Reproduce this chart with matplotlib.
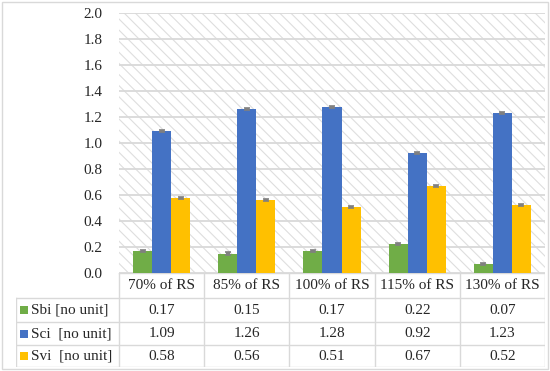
import matplotlib
matplotlib.use("Agg")
import matplotlib.pyplot as plt
from matplotlib.patches import Rectangle

categories = ["70% of RS", "85% of RS", "100% of RS", "115% of RS", "130% of RS"]
series_names = ["Sbi [no unit]", "Sci  [no unit]", "Svi  [no unit]"]
sbi = [0.17, 0.15, 0.17, 0.22, 0.07]
sci = [1.09, 1.26, 1.28, 0.92, 1.23]
svi = [0.58, 0.56, 0.51, 0.67, 0.52]
sbi_err = [0.007, 0.012, 0.007, 0.007, 0.007]
sci_err = [0.007, 0.007, 0.007, 0.007, 0.007]
svi_err = [0.007, 0.007, 0.007, 0.007, 0.007]
colors = ["#70ad47", "#4472c4", "#ffc000"]
yticks = [0.0, 0.2, 0.4, 0.6, 0.8, 1.0, 1.2, 1.4, 1.6, 1.8, 2.0]

plt.rcParams["font.family"] = ["Liberation Serif", "DejaVu Serif"]
plt.rcParams["hatch.linewidth"] = 0.8
W, H = 550, 371
FS = 11
tc = "#262626"
fig = plt.figure(figsize=(5.5, 3.71), dpi=100)

# outer frame
fig.patches.append(Rectangle((2 / W, 2 / H), 546 / W, 367 / H, transform=fig.transFigure,
                             fill=False, edgecolor="#d9d9d9", lw=1))

x0, x1, ytop, ybot = 119, 545, 13, 273
ax = fig.add_axes([x0 / W, 1 - ybot / H, (x1 - x0) / W, (ybot - ytop) / H])
ax.set_xlim(-0.5, len(categories) - 0.5)
ax.set_ylim(0, 2.0)
ax.add_patch(Rectangle((0, 0), 1, 1, transform=ax.transAxes, facecolor="white",
                       edgecolor="#dedede", hatch="\\\\\\", lw=0, zorder=0))
for s in ax.spines.values():
    s.set_visible(False)
ax.set_yticks(yticks)
ax.set_yticklabels([f"{v:.1f}" for v in yticks], fontsize=FS, color=tc)
ax.tick_params(axis="y", length=0, pad=12)
ax.set_xticks([])
ax.grid(axis="y", color="#d9d9d9", lw=1.3, zorder=1)
ax.set_axisbelow(True)

bw = 0.224
for i, (vals, errs) in enumerate([(sbi, sbi_err), (sci, sci_err), (svi, svi_err)]):
    xs = [k + (i - 1) * bw for k in range(len(categories))]
    ax.bar(xs, vals, width=bw, color=colors[i], zorder=3)
    ax.errorbar(xs, vals, yerr=errs, fmt="none", ecolor="#808080", elinewidth=3,
                capsize=2, capthick=1.2, zorder=4)

# data table
tx0, tx1, ty0, ty1 = 16, 545, 273, 367
tab = fig.add_axes([tx0 / W, 1 - ty1 / H, (tx1 - tx0) / W, (ty1 - ty0) / H])
ppu = (x1 - x0) / len(categories)
left = -0.5 - (x0 - tx0) / ppu
tab.set_xlim(left, len(categories) - 0.5)
tab.set_ylim(4, 0)
tab.axis("off")
lc = "#d9d9d9"
row_h = [0, 1.07, 2.1, 3.07, 4]
for k in range(len(categories) + 1):
    tab.plot([k - 0.5, k - 0.5], [0, 4], color=lc, lw=1)
tab.plot([left, left], [row_h[1], 4], color=lc, lw=1)
tab.plot([-0.5, len(categories) - 0.5], [0, 0], color=lc, lw=1)
for r in row_h[1:]:
    tab.plot([left, len(categories) - 0.5], [r, r], color=lc, lw=1)
for k, c in enumerate(categories):
    tab.text(k, (row_h[0] + row_h[1]) / 2, c, ha="center", va="center", fontsize=FS, color=tc)
for j, vals in enumerate([sbi, sci, svi]):
    yc = (row_h[j + 1] + row_h[j + 2]) / 2
    for k, v in enumerate(vals):
        tab.text(k, yc, f"{v:.2f}", ha="center", va="center", fontsize=FS, color=tc)
    tab.add_patch(Rectangle((left + 4 / ppu, yc - 0.17), 8 / ppu, 0.34, facecolor=colors[j],
                            edgecolor="none"))
    tab.text(left + 15 / ppu, yc, series_names[j], ha="left", va="center", fontsize=FS,
             color=tc)

fig.savefig("out.png", dpi=100)
